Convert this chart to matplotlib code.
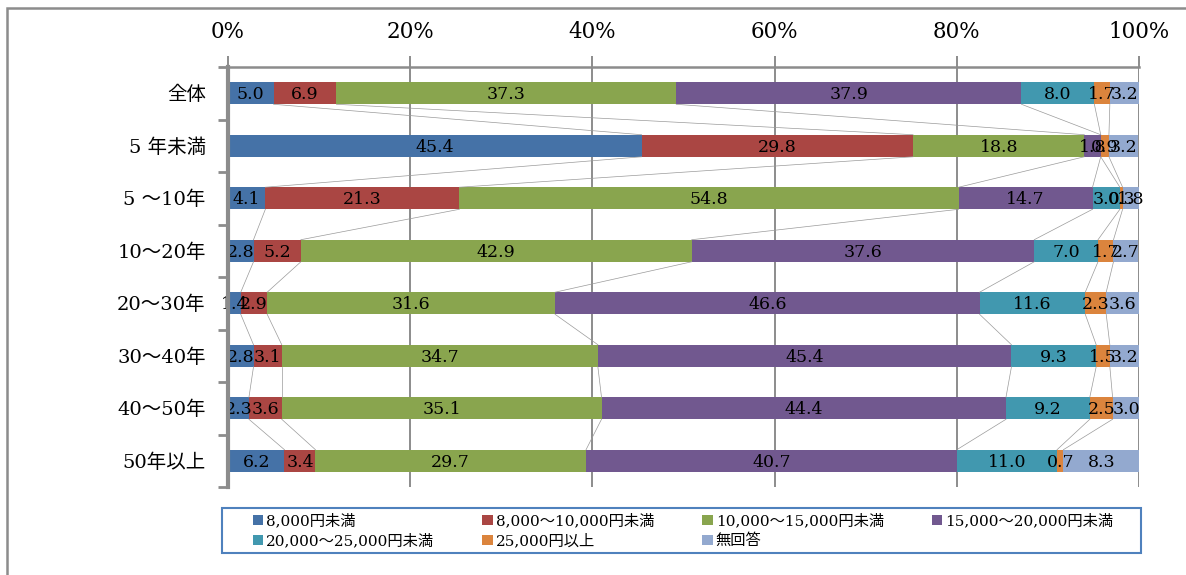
import numpy as np
import matplotlib.pyplot as plt
from matplotlib.patches import Rectangle

plt.rcParams["font.family"] = ["DejaVu Serif", "Noto Sans CJK JP"]

categories = ["全体", "5 年未満", "5 ～10年", "10～20年", "20～30年", "30～40年", "40～50年", "50年以上"]
series_names = ["8,000円未満", "8,000～10,000円未満", "10,000～15,000円未満", "15,000～20,000円未満",
                "20,000～25,000円未満", "25,000円以上", "無回答"]
colors = ["#4572A7", "#AA4643", "#89A54E", "#71588F", "#4198AF", "#DB843D", "#93A9CF"]

under_8000 = [5.0, 45.4, 4.1, 2.8, 1.4, 2.8, 2.3, 6.2]
from_8000 = [6.9, 29.8, 21.3, 5.2, 2.9, 3.1, 3.6, 3.4]
from_10000 = [37.3, 18.8, 54.8, 42.9, 31.6, 34.7, 35.1, 29.7]
from_15000 = [37.9, 1.8, 14.7, 37.6, 46.6, 45.4, 44.4, 40.7]
from_20000 = [8.0, 0.0, 3.0, 7.0, 11.6, 9.3, 9.2, 11.0]
over_25000 = [1.7, 0.9, 0.3, 1.7, 2.3, 1.5, 2.5, 0.7]
no_answer = [3.2, 3.2, 1.8, 2.7, 3.6, 3.2, 3.0, 8.3]

table = np.array([under_8000, from_8000, from_10000, from_15000, from_20000, over_25000, no_answer])

fig = plt.figure(figsize=(11.86, 5.75), dpi=100)
# outer chart frame
fig.patches.append(Rectangle((7 / 1186, -0.1), 1.2, 1 - 8 / 575 + 0.1, transform=fig.transFigure,
                             fill=False, edgecolor="#8C8C8C", linewidth=1.8))
# legend box
fig.patches.append(Rectangle((222 / 1186, 1 - 553 / 575), (1141 - 222) / 1186, 45 / 575,
                             transform=fig.transFigure, fill=False, edgecolor="#4F81BD", linewidth=1.5))

ax = fig.add_axes([228 / 1186, 1 - 487 / 575, (1139 - 228) / 1186, (487 - 67) / 575])
y = np.arange(len(categories))
bar_h = 0.42
gray = "#8C8C8C"

# grid first so bars sit on top
for gx in [20, 40, 60, 80, 100]:
    ax.axvline(gx, color=gray, lw=1.4, zorder=0)

left = np.zeros(len(categories))
for j, vals in enumerate(table):
    ax.barh(y, vals, left=left, height=bar_h, color=colors[j], label=series_names[j], zorder=2)
    for i, v in enumerate(vals):
        if v > 0:
            ax.text(left[i] + v / 2, y[i] + 0.03, f"{v:.1f}", ha="center", va="center",
                    fontsize=12.5, color="black", zorder=4)
    left = left + vals

# series lines between neighbouring bars
cum = np.cumsum(table, axis=0)
for j in range(len(table) - 1):
    for i in range(len(categories) - 1):
        ax.plot([cum[j, i], cum[j, i + 1]], [y[i] + bar_h / 2, y[i + 1] - bar_h / 2],
                color="#9A9A9A", lw=0.5, zorder=3)

ax.set_xlim(0, 100)
ax.set_ylim(len(categories) - 0.5, -0.5)
ax.xaxis.tick_top()
ax.set_xticks([0, 20, 40, 60, 80, 100])
ax.set_xticklabels([f"{t}%" for t in [0, 20, 40, 60, 80, 100]], fontsize=15.5)
ax.tick_params(axis="x", direction="out", length=8, width=1.4, color=gray, pad=9)

ax.set_yticks(y)
ax.set_yticklabels(categories, fontsize=14)
ax.set_yticks(np.arange(-0.5, len(categories)), minor=True)
ax.tick_params(axis="y", which="major", length=0, pad=16)
ax.tick_params(axis="y", which="minor", direction="out", length=7, width=2, color=gray)

for s in ["bottom", "right"]:
    ax.spines[s].set_visible(False)
ax.spines["top"].set_color(gray)
ax.spines["top"].set_linewidth(1.8)
ax.spines["left"].set_color(gray)
ax.spines["left"].set_linewidth(3)
ax.spines["left"].set_zorder(5)

# legend in row order like the original
handles, labels = ax.get_legend_handles_labels()
order = [0, 4, 1, 5, 2, 6, 3]
leg = fig.legend([handles[k] for k in order], [labels[k] for k in order],
                 ncol=4, mode="expand", loc="lower left",
                 bbox_to_anchor=(248 / 1186, 1 - 553 / 575, (1118 - 248) / 1186, 45 / 575),
                 fontsize=11, frameon=False, borderaxespad=0,
                 handlelength=0.7, handleheight=0.7, handletextpad=0.2,
                 labelspacing=0.35, borderpad=0.3)

plt.savefig("out.png", dpi=100)
